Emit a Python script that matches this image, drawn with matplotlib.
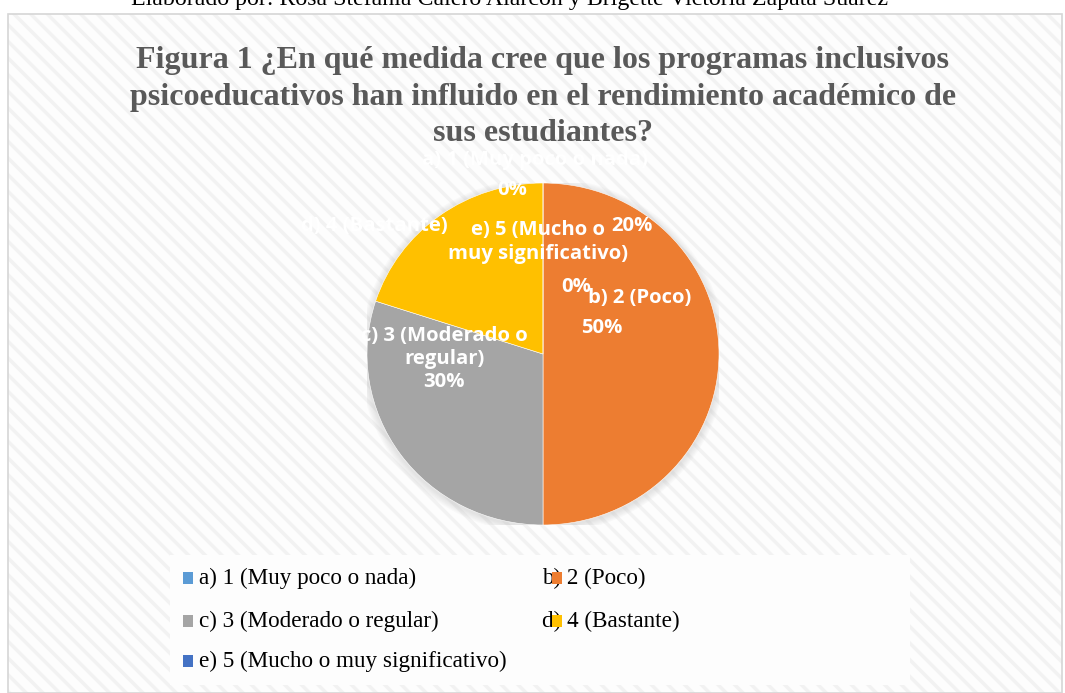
import matplotlib
matplotlib.use("Agg")
from matplotlib import pyplot as plt
from matplotlib.patches import Rectangle, Ellipse

W, H = 1065, 693

categories = ['a) 1 (Muy poco o nada)', 'b) 2 (Poco)', 'c) 3 (Moderado o regular)',
              'd) 4 (Bastante)', 'e) 5 (Mucho o muy significativo)']
percent = [0, 50, 30, 20, 0]
colors = ['#5B9BD5', '#ED7D31', '#A5A5A5', '#FFC000', '#4472C4']

title = ("Figura 1 ¿En qué medida cree que los programas inclusivos\n"
         "psicoeducativos han influido en el rendimiento académico de\n"
         "sus estudiantes?")
source = "Elaborado por: Rosa Stefania Calero Alarcón y Brigette Victoria Zapata Suárez"

plt.rcParams['hatch.linewidth'] = 2.5


def fx(px):
    return px / W


def fy(py):
    return 1 - py / H


fig = plt.figure(figsize=(W / 100, H / 100), dpi=100)
fig.patch.set_facecolor('white')

# chart area with faint diagonal texture (hatch colour follows edgecolor)
bg = Rectangle((fx(8), 0), fx(1054), fy(14), transform=fig.transFigure,
               facecolor='#fdfdfd', edgecolor='#f2f2f2', lw=0,
               hatch='\\\\', zorder=-5)
fig.patches.append(bg)
frame = Rectangle((fx(8), 0), fx(1054), fy(14), transform=fig.transFigure,
                  facecolor='none', edgecolor='#d6d6d6', lw=1.2, zorder=-4)
fig.patches.append(frame)

fig.text(fx(510), fy(5), source, ha='center', va='baseline',
         family='Liberation Serif', fontsize=17.2, color='black')

fig.text(fx(543), fy(97), title, ha='center', va='center',
         family='Liberation Serif', fontweight='bold', fontsize=23,
         color='#595959', linespacing=1.36)

# pie
cx, cy, rx, ry = 543, 354, 176, 171
ax = fig.add_axes([fx(cx - rx), fy(cy + ry), 2 * rx / W, 2 * ry / H])
ax.set_zorder(2)
for i in range(6, 0, -1):
    ax.add_patch(Ellipse((0.0, -0.01), 2 + i * 0.014, 2 + i * 0.014,
                         facecolor='#b0b0b0', edgecolor='none', alpha=0.06, zorder=0))
ax.pie(percent, colors=colors, startangle=90, counterclock=False,
       wedgeprops=dict(edgecolor='white', linewidth=0.4, zorder=1))
ax.set_aspect('auto')
ax.set_xlim(-1, 1)
ax.set_ylim(-1, 1)
ax.axis('off')


def px2d(px, py):
    return (px - cx) / rx, (cy - py) / ry


lab = dict(color='white', fontweight='bold', family='Open Sans', fontsize=14.6,
           ha='center', va='center', linespacing=1.22, clip_on=False, zorder=5)

ax.text(*px2d(535, 160), categories[0], **lab)
ax.text(*px2d(512, 190), f"{percent[0]}%", **lab)
ax.text(*px2d(374, 226), categories[3], **lab)
ax.text(*px2d(632, 226), f"{percent[3]}%", **lab)
ax.text(*px2d(538, 242), "e) 5 (Mucho o\nmuy significativo)", **lab)
ax.text(*px2d(576, 287), f"{percent[4]}%", **lab)
ax.text(*px2d(640, 298), categories[1], **lab)
ax.text(*px2d(602, 328), f"{percent[1]}%", **lab)
ax.text(*px2d(444, 359), f"c) 3 (Moderado o\nregular)\n{percent[2]}%", **lab)

# legend box
leg = Rectangle((fx(170), fy(685)), fx(740), (685 - 555) / H, transform=fig.transFigure,
                facecolor='#fdfdfd', edgecolor='none', zorder=1)
fig.patches.append(leg)

rows = [578, 621, 661]
cols_marker = [188, 557]
cols_text = [199, 542]
for i, name in enumerate(categories):
    r, c = divmod(i, 2)
    py = rows[r]
    fig.patches.append(Rectangle((fx(cols_marker[c] - 5), fy(py + 6)), 10 / W, 12 / H,
                                 transform=fig.transFigure, facecolor=colors[i],
                                 edgecolor='none', zorder=3))
    fig.text(fx(cols_text[c]), fy(py), name, ha='left', va='center',
             family='Liberation Serif', fontsize=16.7, color='black', zorder=2)

fig.savefig('out.png', dpi=100)
